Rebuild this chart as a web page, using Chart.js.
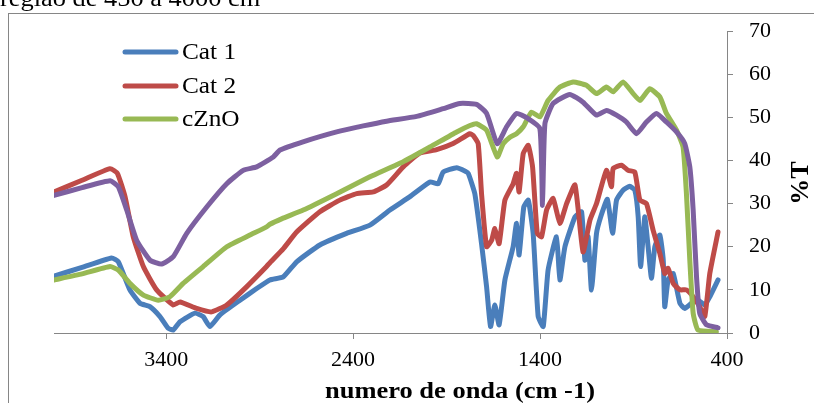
<!DOCTYPE html>
<html>
<head>
<meta charset="utf-8">
<script src="https://cdn.jsdelivr.net/npm/chart.js@4"></script>
<style>
html,body{margin:0;padding:0;background:#fff;overflow:hidden}
#wrap{width:814px;height:403px;position:relative}
</style>
</head>
<body>
<div id="wrap"><canvas id="c" width="814" height="403"></canvas></div>
<script>
// ---- data (wavenumber cm-1, %T) ----
const seriesLabels = ['Cat 1', 'Cat 2', 'cZnO', ''];
const seriesColors = ['#4A7EBB', '#BE4B48', '#98B954', '#7D60A0'];

const cat1X = [4000,3850,3692,3656,3594,3540,3487,3433,3389,3362,3326,3246,3202,3166,3112,3005,2916,2845,2774,2702,2578,2435,2310,2203,2096,1989,1945,1918,1846,1800,1784,1749,1713,1686,1665,1642,1619,1588,1544,1526,1512,1487,1463,1437,1410,1383,1357,1312,1294,1267,1213,1178,1160,1143,1125,1098,1075,1040,1012,991,956,920,893,875,862,840,822,804,786,759,741,733,715,688,652,626,590,555,519,492,448];
const cat1Y = [13.2,15.2,17.4,16.5,10.0,6.9,6.1,3.8,1.1,0.7,2.6,4.6,3.8,1.5,4.2,7.6,10.3,12.3,13.0,16.5,20.4,23.1,25.0,28.5,31.6,35.0,34.6,37.3,38.3,37.5,37.0,32.3,20.7,10.7,1.5,6.5,1.9,12.3,20.0,25.4,18.1,29.2,30.8,23.1,3.8,1.5,14.6,22.3,12.3,20.0,26.9,28.1,16.9,22.3,10.0,23.1,27.0,31.0,23.1,30.8,33.1,34.0,33.1,26.9,15.4,26.9,20.0,12.7,20.0,22.7,16.9,6.1,12.3,13.8,6.9,5.7,6.9,7.6,6.5,8.4,12.3];

const cat2X = [4000,3850,3700,3661,3620,3576,3522,3451,3362,3326,3237,3157,3076,2970,2863,2845,2774,2702,2578,2471,2381,2292,2221,2132,2043,1953,1865,1775,1758,1731,1713,1686,1659,1642,1619,1588,1544,1526,1512,1490,1463,1440,1415,1392,1365,1330,1294,1258,1213,1170,1133,1098,1045,1018,1009,964,929,893,866,831,795,759,733,715,688,652,617,581,546,519,492,448];
const cat2Y = [32.7,35.4,38.1,37.0,31.6,22.3,15.4,10.0,6.5,7.2,5.7,4.9,6.5,10.7,15.4,16.3,19.5,23.4,28.1,30.8,32.3,32.7,34.3,38.5,41.7,42.5,43.9,46.2,45.8,43.9,32.3,20.0,21.5,24.2,20.7,30.8,34.6,37.0,32.7,41.6,43.5,38.5,23.1,22.3,28.5,31.2,25.4,30.0,34.3,18.8,26.2,30.0,37.7,33.9,38.1,38.9,37.7,37.3,30.8,30.0,23.8,18.4,13.8,15.0,11.5,10.0,10.0,8.4,6.1,3.8,13.8,23.4];

const cznoX = [4000,3850,3700,3656,3594,3522,3442,3380,3309,3202,3076,2952,2863,2845,2780,2667,2488,2310,2132,1989,1846,1775,1740,1686,1629,1597,1561,1526,1490,1446,1401,1357,1294,1223,1152,1098,1045,1009,956,902,866,813,759,724,670,635,617,599,581,555,457];
const cznoY = [12.3,13.7,15.4,14.6,11.5,8.8,7.6,8.4,11.5,15.4,20.0,22.7,24.6,25.2,26.5,28.5,32.3,36.2,39.7,43.1,46.6,48.1,48.5,47.0,40.8,43.9,45.4,46.2,47.8,51.2,50.1,53.9,57.0,58.2,57.4,55.5,57.0,55.9,58.2,55.5,53.9,56.6,54.7,50.9,47.0,43.1,32.3,16.9,4.6,0.7,0.3];

const purpleX = [4000,3850,3700,3656,3611,3558,3487,3424,3362,3290,3183,3076,2988,2916,2827,2791,2668,2488,2346,2221,2060,1918,1829,1740,1686,1629,1579,1526,1472,1401,1387,1374,1330,1241,1170,1098,1045,991,938,884,831,777,724,670,626,599,581,563,546,510,448];
const purpleY = [31.9,33.7,35.3,33.9,28.5,21.5,16.9,16.0,17.7,23.1,29.2,34.6,37.7,38.5,40.8,42.4,44.3,46.6,48.0,49.1,50.2,52.0,53.2,53.0,50.9,43.9,47.8,50.9,49.9,47.4,29.6,48.5,53.2,55.3,53.5,50.5,51.6,50.5,48.9,46.2,48.9,50.9,48.9,46.6,43.9,38.5,28.5,13.0,4.6,1.9,1.2];

const xTicks = [3400, 2400, 1400, 400];
const yTicks = [0, 10, 20, 30, 40, 50, 60, 70];
const xTitle = 'numero de onda (cm -1)';
const yTitle = '%T';
const headerText = 'região de 450 a 4000 cm';

const seriesX = [cat1X, cat2X, cznoX, purpleX];
const seriesY = [cat1Y, cat2Y, cznoY, purpleY];

const SERIF = '"Liberation Serif", "Times New Roman", serif';

function stretchedText(ctx, text, x, y, sx, align) {
  ctx.save();
  ctx.translate(x, y);
  ctx.scale(sx, 1);
  ctx.textAlign = align || 'left';
  ctx.fillText(text, 0, 0);
  ctx.restore();
}

const decor = {
  id: 'decor',
  beforeDraw(chart) {
    const ctx = chart.ctx;
    ctx.save();
    ctx.fillStyle = '#fff';
    ctx.fillRect(0, 0, chart.width, chart.height);
    ctx.strokeStyle = '#868686';
    ctx.lineWidth = 1;
    ctx.strokeRect(8.5, 13.5, chart.width + 10, chart.height + 10);
    ctx.fillStyle = '#000';
    ctx.font = '24px ' + SERIF;
    ctx.textBaseline = 'alphabetic';
    stretchedText(ctx, headerText, 0, 6, 1.1, 'left');
    ctx.restore();
  },
  afterDraw(chart) {
    const ctx = chart.ctx;
    ctx.save();
    // legend (first three series)
    const rows = [52, 86, 119];
    for (let i = 0; i < 3; i++) {
      const ds = chart.data.datasets[i];
      ctx.strokeStyle = ds.borderColor;
      ctx.lineWidth = 5;
      ctx.lineCap = 'round';
      ctx.beginPath();
      ctx.moveTo(125, rows[i]);
      ctx.lineTo(176, rows[i]);
      ctx.stroke();
      ctx.fillStyle = '#000';
      ctx.font = '23px ' + SERIF;
      ctx.textBaseline = 'middle';
      stretchedText(ctx, ds.label, 182, rows[i] + 1, 1.1, 'left');
    }
    // x title
    ctx.fillStyle = '#000';
    ctx.font = 'bold 23px ' + SERIF;
    ctx.textBaseline = 'alphabetic';
    stretchedText(ctx, xTitle, 460, 398, 1.15, 'center');
    // y title, rotated
    ctx.save();
    ctx.translate(801, 183);
    ctx.rotate(-Math.PI / 2);
    ctx.font = 'bold 26px ' + SERIF;
    ctx.textAlign = 'center';
    ctx.textBaseline = 'middle';
    ctx.fillText(yTitle, 0, 0);
    ctx.restore();
    ctx.restore();
  }
};

const datasets = seriesLabels.map((lab, i) => ({
  label: lab,
  data: seriesX[i].map((x, j) => ({ x: x, y: seriesY[i][j] })),
  borderColor: seriesColors[i],
  backgroundColor: seriesColors[i],
  borderWidth: 5,
  pointRadius: 0,
  tension: 0.15,
  borderJoinStyle: 'round',
  borderCapStyle: 'round',
  fill: false,
  order: 4 - i
}));

new Chart(document.getElementById('c'), {
  type: 'line',
  data: { datasets: datasets },
  options: {
    responsive: false,
    animation: false,
    devicePixelRatio: 1,
    layout: { padding: { left: 54, top: 31, right: 0, bottom: 0 } },
    plugins: { legend: { display: false }, tooltip: { enabled: false } },
    scales: {
      x: {
        type: 'linear',
        reverse: true,
        min: 400,
        max: 4000,
        position: 'bottom',
        afterBuildTicks: (s) => { s.ticks = xTicks.map(v => ({ value: v })); },
        afterFit: (s) => { s.height = 70; },
        grid: { drawOnChartArea: false, drawTicks: true, tickLength: 6, color: '#868686' },
        border: { display: true, color: '#868686', width: 1 },
        ticks: { color: '#000', font: { family: SERIF, size: 22 }, padding: 8, maxRotation: 0, autoSkip: false,
                 callback: (v) => String(v) }
      },
      y: {
        type: 'linear',
        position: 'right',
        min: 0,
        max: 70,
        afterBuildTicks: (s) => { s.ticks = yTicks.map(v => ({ value: v })); },
        afterFit: (s) => { s.width = 87; },
        grid: { drawOnChartArea: false, drawTicks: true, tickLength: 6, color: '#868686' },
        border: { display: true, color: '#868686', width: 1 },
        ticks: { color: '#000', font: { family: SERIF, size: 22 }, padding: 16, callback: (v) => String(v) }
      }
    }
  },
  plugins: [decor]
});
</script>
</body>
</html>
